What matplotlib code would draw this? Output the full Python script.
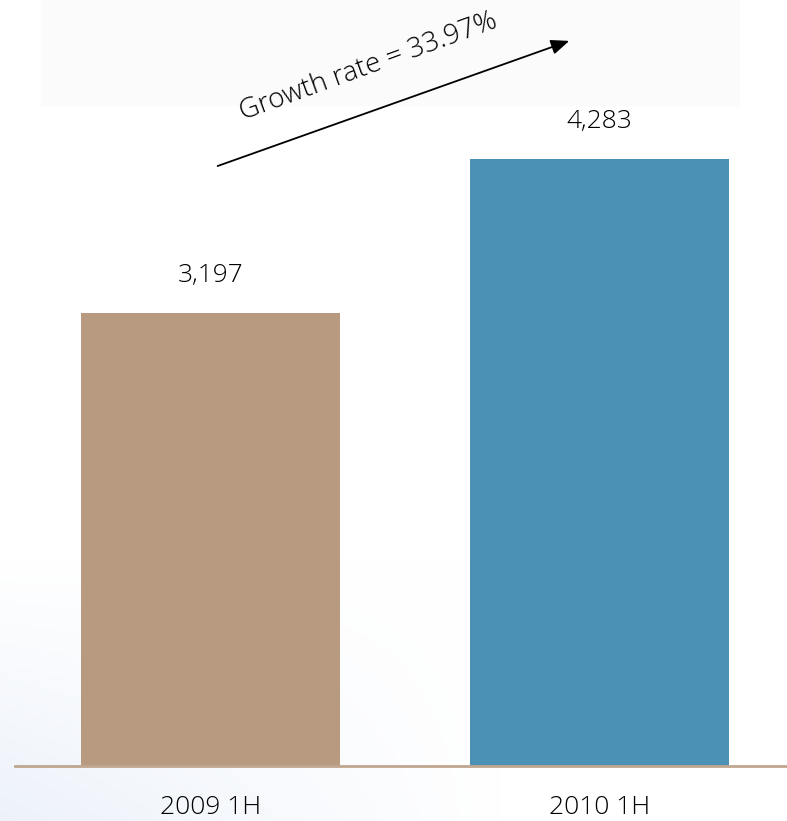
import numpy as np
import matplotlib
matplotlib.use('agg')
import matplotlib.pyplot as plt

categories = ['2009 1H', '2010 1H']
values = [3197, 4283]
colors = ['#B89A80', '#4B91B5']
growth_label = 'Growth rate = 33.97%'

plt.rcParams['font.family'] = ['Open Sans', 'DejaVu Sans']

fig = plt.figure(figsize=(7.87, 8.21), dpi=100)

# faint background shading like the slide
bg = fig.add_axes([0, 0, 1, 1], zorder=0)
h, w = 821, 787
yy, xx = np.mgrid[0:h, 0:w]
img = np.ones((h, w, 3))
bottom = np.clip((yy - 560) / 261.0, 0, 1) * np.clip(1 - xx / 500.0, 0, 1)
img[..., 0] -= 0.07 * bottom
img[..., 1] -= 0.05 * bottom
img[..., 2] -= 0.02 * bottom
top = (yy < 107) & (xx > 40) & (xx < 740)
img[top] -= 0.012
bg.imshow(img, aspect='auto', extent=[0, 1, 0, 1])
bg.axis('off')

ax = fig.add_axes([15 / 787, 55 / 821, 772 / 787, 766 / 821], zorder=1)
ax.patch.set_alpha(0)
x = np.arange(len(categories))
ax.bar(x, values, width=0.666, color=colors)
ax.set_xlim(-0.5026, 1.482)
ax.set_ylim(0, 5405)

for xi, v in zip(x, values):
    ax.text(xi, v + 265, f'{v:,}', ha='center', va='center', fontsize=19,
            color='black', fontweight='light')

for xi, c in zip(x, categories):
    ax.text(xi, -295, c, ha='center', va='center', fontsize=19, color='black',
            fontweight='light', clip_on=False)

for s in ['top', 'right', 'left']:
    ax.spines[s].set_visible(False)
ax.spines['bottom'].set_color('#C0A68E')
ax.spines['bottom'].set_linewidth(2)
ax.set_xticks([])
ax.set_yticks([])

ax.annotate('', xy=(0.929, 5123), xytext=(0.0116, 4227),
            arrowprops=dict(arrowstyle='-|>,head_length=1.1,head_width=0.45', color='black', lw=1.3))
ax.text(0.405, 4930, growth_label, rotation=20, ha='center', va='center',
        fontsize=20, color='black', fontweight='light', rotation_mode='anchor')

fig.savefig('out.png', dpi=100)
